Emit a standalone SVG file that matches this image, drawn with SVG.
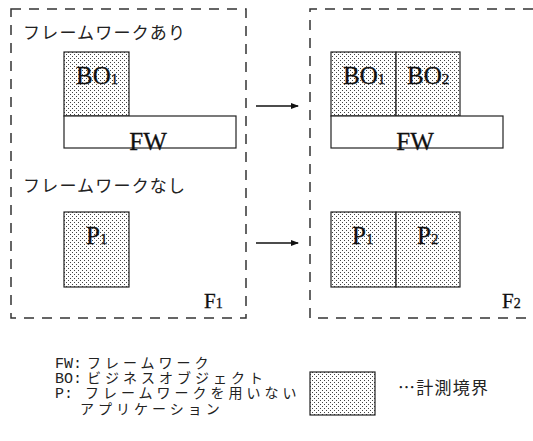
<svg xmlns="http://www.w3.org/2000/svg" width="533" height="441" viewBox="0 0 533 441">
<defs>
<pattern id="dots" width="4" height="4" patternUnits="userSpaceOnUse">
<rect width="4" height="4" fill="#fff"/>
<rect x="0" y="0" width="1" height="1" fill="#444"/>
<rect x="2" y="2" width="1" height="1" fill="#444"/>
</pattern>
<marker id="arr" markerWidth="8" markerHeight="6" refX="7" refY="3" orient="auto" markerUnits="userSpaceOnUse">
<path d="M0,0 L8,3 L0,6 Z" fill="#111"/>
</marker>
</defs>
<style>
.frame{fill:none;stroke:#333;stroke-width:1.5;stroke-dasharray:10 8}
.dot{fill:url(#dots);stroke:#222;stroke-width:1.2}
.plain{fill:#fff;stroke:#222;stroke-width:1.2}
.serif{font-family:"Liberation Serif",serif;fill:#111;stroke:#111;stroke-width:0.3}
.jp{font-family:"Noto Sans CJK JP",sans-serif;fill:#222;font-size:17px}
.leg{font-family:"Liberation Mono","Noto Sans CJK JP",monospace;fill:#222;font-size:15px}
.kana{font-family:"Noto Sans CJK JP",sans-serif;font-size:14px;letter-spacing:4px}
.conn{stroke:#111;stroke-width:1.5;fill:none}
</style>
<g id="frame1">
<path class="frame" d="M11,9 H246 V318 H11 Z"/>
<text class="jp" x="23" y="39" textLength="162">フレームワークあり</text>
<text class="jp" x="23" y="192" textLength="162">フレームワークなし</text>
<text class="serif" x="204" y="308" font-size="21">F<tspan font-size="14">1</tspan></text>
</g>
<g id="frame2">
<path class="frame" d="M533,9 H310 V318 H533"/>
<text class="serif" x="502" y="308" font-size="21">F<tspan font-size="14">2</tspan></text>
</g>
<g id="bo1-left">
<rect class="dot" x="64" y="52" width="65" height="64"/>
<text class="serif" x="76" y="84" font-size="25">BO<tspan font-size="15">1</tspan></text>
</g>
<g id="fw-left">
<rect class="plain" x="64" y="116" width="172" height="32"/>
<text class="serif" x="148" y="150" font-size="25" text-anchor="middle">FW</text>
</g>
<g id="p1-left">
<rect class="dot" x="64" y="212" width="65" height="75"/>
<text class="serif" x="86" y="244" font-size="25">P<tspan font-size="15">1</tspan></text>
</g>
<g id="bo1-right">
<rect class="dot" x="331" y="52" width="65" height="64"/>
<text class="serif" x="343" y="84" font-size="25">BO<tspan font-size="15">1</tspan></text>
</g>
<g id="bo2-right">
<rect class="dot" x="396" y="52" width="64" height="64"/>
<text class="serif" x="407" y="84" font-size="25">BO<tspan font-size="15">2</tspan></text>
</g>
<g id="fw-right">
<rect class="plain" x="331" y="116" width="172" height="32"/>
<text class="serif" x="415" y="150" font-size="25" text-anchor="middle">FW</text>
</g>
<g id="p1-right">
<rect class="dot" x="331" y="212" width="65" height="75"/>
<text class="serif" x="352" y="244" font-size="25">P<tspan font-size="15">1</tspan></text>
</g>
<g id="p2-right">
<rect class="dot" x="396" y="212" width="64" height="75"/>
<text class="serif" x="417" y="244" font-size="25">P<tspan font-size="15">2</tspan></text>
</g>
<g id="connectors">
<line class="conn" x1="256" y1="106" x2="298" y2="106" marker-end="url(#arr)"/>
<line class="conn" x1="256" y1="243" x2="298" y2="243" marker-end="url(#arr)"/>
</g>
<g id="legend">
<text class="leg" x="55" y="368">FW:<tspan class="kana" x="87">フレームワーク</tspan></text>
<text class="leg" x="55" y="383">BO:<tspan class="kana" x="87">ビジネスオブジェクト</tspan></text>
<text class="leg" x="55" y="398">P:<tspan class="kana" x="85">フレームワークを用いない</tspan></text>
<text class="leg" x="80" y="414"><tspan class="kana">アプリケーション</tspan></text>
<rect class="dot" x="310" y="372" width="65" height="43"/>
<text class="jp" x="398" y="394" font-size="18" textLength="90">…計測境界</text>
</g>
</svg>
